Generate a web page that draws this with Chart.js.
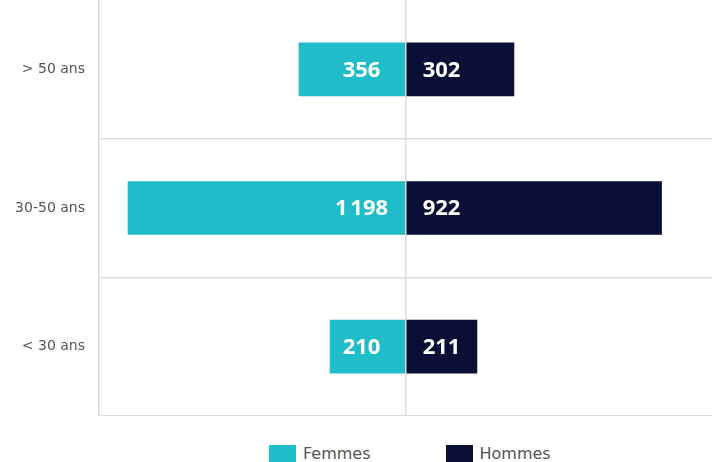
<!DOCTYPE html>
<html lang="fr">
<head>
<meta charset="utf-8">
<script src="https://cdn.jsdelivr.net/npm/chart.js@4/dist/chart.umd.min.js"></script>
<style>
  body { margin: 0; background: #fff; }
  #zone { position: relative; width: 712px; height: 416px; }
  #legende { display: flex; align-items: center; margin: 28px 0 0 269px; font: 16px "DejaVu Sans", sans-serif; color: #555; }
  #legende .item { display: flex; align-items: center; margin-right: 75px; }
  #legende .carre { width: 27px; height: 18px; margin-right: 7px; }
</style>
</head>
<body>
<div id="zone"><canvas id="graphique"></canvas></div>
<div id="legende"></div>
<script>
const tranches = ['> 50 ans', '30-50 ans', '< 30 ans'];
const series = ['Femmes', 'Hommes'];
const couleurs = ['#1fbdc9', '#0a1035'];
// effectifs affichés dans les barres
const effectifFemmes = [356, 1198, 210];
const effectifHommes = [302, 922, 211];
// longueur des barres telle que dessinée (échelle ±1300)
const longueurFemmes = [452, 1177, 320];
const longueurHommes = [460, 1086, 303];

const gris = '#dcdcdc';

function formater(v) {
    return String(v).replace(/\B(?=(\d{3})+(?!\d))/g, '\u202f');
}

const etiquettes = {
    id: 'etiquettes',
    afterDatasetsDraw(chart) {
        const ctx = chart.ctx;
        const zero = chart.scales.x.getPixelForValue(0);
        const valeurs = [effectifFemmes, effectifHommes];
        const decalage = [-44, 36];
        ctx.save();
        ctx.font = 'bold 22px "Open Sans", sans-serif';
        ctx.fillStyle = '#fff';
        ctx.textAlign = 'center';
        ctx.textBaseline = 'middle';
        chart.data.datasets.forEach((ds, i) => {
            chart.getDatasetMeta(i).data.forEach((bar, j) => {
                ctx.fillText(formater(valeurs[i][j]), zero + decalage[i], bar.y + 1);
            });
        });
        ctx.restore();
    }
};

new Chart(document.getElementById('graphique'), {
    type: 'bar',
    data: {
        labels: tranches,
        datasets: [
            { label: series[0], data: longueurFemmes.map(v => -v), backgroundColor: couleurs[0], barThickness: 53 },
            { label: series[1], data: longueurHommes, backgroundColor: couleurs[1], barThickness: 53 }
        ]
    },
    options: {
        indexAxis: 'y',
        responsive: true,
        maintainAspectRatio: false,
        animation: false,
        layout: { padding: 0 },
        plugins: {
            legend: { display: false },
            tooltip: { enabled: false }
        },
        scales: {
            x: {
                stacked: true,
                min: -1300,
                max: 1300,
                afterFit: s => { s.paddingLeft = 0; s.paddingRight = 0; },
                ticks: { display: false, stepSize: 1300 },
                grid: {
                    z: 1,
                    drawTicks: false,
                    lineWidth: 1.5,
                    color: c => c.tick && c.tick.value === 0 ? gris : 'transparent'
                },
                border: { display: false }
            },
            y: {
                stacked: true,
                afterFit: s => { s.width = 99; s.paddingTop = 0; s.paddingBottom = 0; },
                ticks: {
                    padding: 14,
                    color: '#555',
                    font: { family: '"DejaVu Sans", sans-serif', size: 14 }
                },
                grid: {
                    drawTicks: false,
                    lineWidth: 1.5,
                    color: c => c.index === 0 ? 'transparent' : gris
                },
                border: { color: gris, width: 1.5 }
            }
        }
    },
    plugins: [etiquettes]
});

const legende = document.getElementById('legende');
series.forEach((nom, i) => {
    legende.innerHTML += '<div class="item"><span class="carre" style="background:' + couleurs[i] + '"></span>' + nom + '</div>';
});
</script>
</body>
</html>
